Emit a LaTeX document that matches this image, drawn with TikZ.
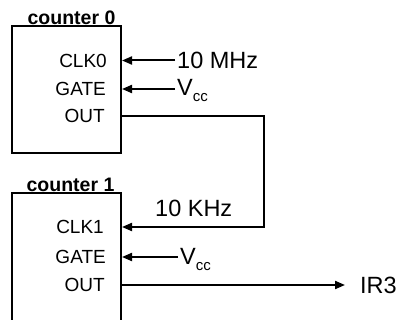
\documentclass[tikz,border=0pt]{standalone}
\usepackage{fontspec}
\setmainfont{Liberation Sans}
\usetikzlibrary{arrows.meta,positioning}

\newcommand{\vcc}{V\raisebox{-6pt}{\fontsize{15}{15}\selectfont cc}}

\begin{document}
\begin{tikzpicture}[
    x=1pt, y=-1pt,
    counter/.style={rectangle, draw, line width=2pt, minimum width=109pt, inner sep=0pt},
    title/.style={font=\fontsize{19.5}{19.5}\selectfont\bfseries, inner sep=0pt},
    port/.style={font=\fontsize{19}{19}\selectfont, inner sep=0pt, anchor=east},
    lbl/.style={font=\fontsize{23.5}{23.5}\selectfont, inner xsep=2pt, inner ysep=0pt, anchor=west},
    sig/.style={-{Triangle[length=10pt,width=8pt]}, line width=2pt},
]
    \useasboundingbox (0,0) rectangle (398,320);
    \clip (0,0) rectangle (398,320);

    % counter 0
    \node[counter, minimum height=127pt] (c0) at (66.5,89.5) {};
    \node[title, above=0pt of c0.north, xshift=5pt] (t0) {counter 0};
    \node[port] (clk0) at (107,60.5) {CLK0};
    \node[port] (gate0) at (106,89) {GATE};
    \node[port] (out0) at (105,116) {OUT};

    % counter 1
    \node[counter, minimum height=147pt] (c1) at (66.5,266.5) {};
    \node[title, above=0pt of c1.north, xshift=4pt] (t1) {counter 1};
    \node[port] (clk1) at (104,227) {CLK1};
    \node[port] (gate1) at (106,257) {GATE};
    \node[port] (out1) at (105,285) {OUT};

    % inputs
    \node[lbl] (mhz) at (175,60.5) {10 MHz};
    \node[lbl, anchor=base west] (vcc0) at (175,96) {\vcc};
    \node[lbl] (khz) at (153,208) {10 KHz};
    \node[lbl, anchor=base west] (vcc1) at (178,264) {\vcc};
    \node[lbl] (ir3) at (358,285) {IR3};
    \coordinate (bend) at (264,227);

    \draw[sig] (mhz.west) -- (c0.east |- mhz);
    \draw[sig] (vcc0.west |- gate0) -- (c0.east |- gate0);
    \draw[sig] (c0.east |- out0) -| (bend) -- (c1.east |- clk1);
    \draw[sig] (vcc1.west |- gate1) -- (c1.east |- gate1);
    \draw[sig] (c1.east |- out1) -- ([xshift=-13pt]ir3.west);
\end{tikzpicture}
\end{document}
